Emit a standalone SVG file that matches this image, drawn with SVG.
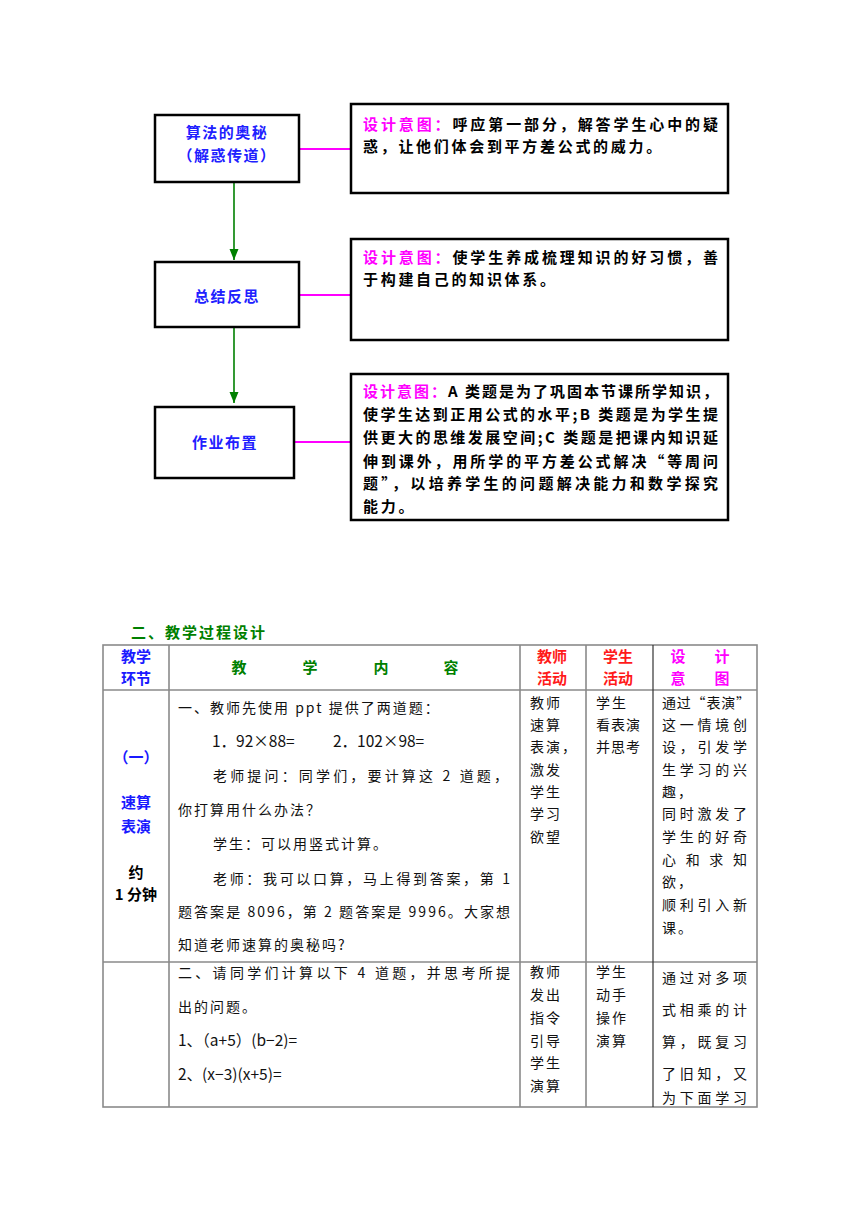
<svg xmlns="http://www.w3.org/2000/svg" width="860" height="1216" viewBox="0 0 860 1216">
<style>
  .box{fill:#fff;stroke:#000;stroke-width:2.5}
  .lbl{font-family:"Noto Sans CJK SC","Noto Sans",sans-serif;font-size:15px;font-weight:bold;fill:#2020ff;text-anchor:middle;letter-spacing:1.5px}
  .note{font-family:"Noto Sans CJK SC","Noto Sans",sans-serif;font-size:15px;font-weight:bold;fill:#000}
  .mg{fill:#ff00ff}
  .pink{stroke:#ff00ff;stroke-width:2;fill:none}
  .green{stroke:#008000;stroke-width:1.6;fill:none}
  .grid{stroke:#8a8a8a;stroke-width:1.6;fill:none}
  .hd{font-family:"Noto Sans CJK SC","Noto Sans",sans-serif;font-size:15px;font-weight:bold;text-anchor:middle}
  .body{font-family:"Noto Sans CJK SC","Noto Sans",sans-serif;font-size:14px;fill:#111}
  .num{font-size:15.5px}
  .nar{letter-spacing:2px}
</style>
<defs>
  <marker id="gd" markerWidth="12" markerHeight="12" refX="6" refY="11" markerUnits="userSpaceOnUse" viewBox="0 0 12 12">
    <path d="M1.5,0 L6,11 L10.5,0 Z" fill="#008000"/>
  </marker>
</defs>

<g id="connectors">
  <line class="green" x1="234" y1="183" x2="234" y2="260" marker-end="url(#gd)"/>
  <line class="green" x1="234" y1="327" x2="234" y2="403" marker-end="url(#gd)"/>
  <line class="pink" x1="300" y1="149" x2="351" y2="149"/>
  <line class="pink" x1="300" y1="295" x2="351" y2="295"/>
  <line class="pink" x1="295" y1="442" x2="351" y2="442"/>
</g>

<g id="node-suanfa">
  <rect class="box" x="155" y="115" width="144" height="67"/>
  <text class="lbl" x="227" y="138">算法的奥秘</text>
  <text class="lbl" x="227" y="161">（解惑传道）</text>
</g>
<g id="node-zongjie">
  <rect class="box" x="155" y="262" width="144" height="65"/>
  <text class="lbl" x="227" y="302">总结反思</text>
</g>
<g id="node-zuoye">
  <rect class="box" x="155" y="407" width="139" height="71"/>
  <text class="lbl" x="225" y="448">作业布置</text>
</g>

<g id="note-1">
  <rect class="box" x="351" y="104" width="377" height="89"/>
  <text class="note" x="363" y="130" textLength="355" lengthAdjust="spacing"><tspan class="mg">设计意图：</tspan>呼应第一部分，解答学生心中的疑</text>
  <text class="note" x="363" y="152" letter-spacing="2.7">惑，让他们体会到平方差公式的威力。</text>
</g>
<g id="note-2">
  <rect class="box" x="351" y="239" width="377" height="101"/>
  <text class="note" x="363" y="263" textLength="355" lengthAdjust="spacing"><tspan class="mg">设计意图：</tspan>使学生养成梳理知识的好习惯，善</text>
  <text class="note" x="363" y="285" letter-spacing="2.7">于构建自己的知识体系。</text>
</g>
<g id="note-3">
  <rect class="box" x="351" y="374" width="377" height="146"/>
  <text class="note" x="363" y="397" textLength="355" lengthAdjust="spacing"><tspan class="mg">设计意图：</tspan>A 类题是为了巩固本节课所学知识，</text>
  <text class="note" x="363" y="420" textLength="355" lengthAdjust="spacing">使学生达到正用公式的水平;B 类题是为学生提</text>
  <text class="note" x="363" y="443" textLength="355" lengthAdjust="spacing">供更大的思维发展空间;C 类题是把课内知识延</text>
  <text class="note" x="363" y="467" textLength="355" lengthAdjust="spacing">伸到课外，用所学的平方差公式解决“等周问</text>
  <text class="note" x="363" y="489" textLength="355" lengthAdjust="spacing">题”，以培养学生的问题解决能力和数学探究</text>
  <text class="note" x="363" y="512" letter-spacing="2.7">能力。</text>
</g>

<text id="section-title" x="131" y="638" font-family="Noto Sans CJK SC, sans-serif" font-size="15" font-weight="bold" fill="#008000" letter-spacing="2">二、教学过程设计</text>

<g id="table">
  <g id="table-grid">
    <rect class="grid" x="103" y="645" width="654" height="462"/>
    <line class="grid" x1="103" y1="690" x2="757" y2="690"/>
    <line class="grid" x1="103" y1="962" x2="757" y2="962"/>
    <line class="grid" x1="169" y1="645" x2="169" y2="1107"/>
    <line class="grid" x1="520" y1="645" x2="520" y2="1107"/>
    <line class="grid" x1="586" y1="645" x2="586" y2="1107"/>
    <line x1="653" y1="645" x2="653" y2="1107" stroke="#333" stroke-width="1.2"/>
  </g>
  <g id="table-header">
    <text class="hd" x="136" y="662" fill="#1a1aff">教学</text>
    <text class="hd" x="136" y="684" fill="#1a1aff">环节</text>
    <text class="hd" x="239" y="673" fill="#008000">教</text>
    <text class="hd" x="310" y="673" fill="#008000">学</text>
    <text class="hd" x="381" y="673" fill="#008000">内</text>
    <text class="hd" x="451" y="673" fill="#008000">容</text>
    <text class="hd" x="552" y="662" fill="#ff1a1a">教师</text>
    <text class="hd" x="552" y="684" fill="#ff1a1a">活动</text>
    <text class="hd" x="618" y="662" fill="#ff1a1a">学生</text>
    <text class="hd" x="618" y="684" fill="#ff1a1a">活动</text>
    <text class="hd" x="678" y="662" fill="#ff00ff">设</text>
    <text class="hd" x="722" y="662" fill="#ff00ff">计</text>
    <text class="hd" x="678" y="684" fill="#ff00ff">意</text>
    <text class="hd" x="722" y="684" fill="#ff00ff">图</text>
  </g>
  <g id="row-1">
    <text class="hd" x="136" y="763" fill="#1a1aff">（一）</text>
    <text class="hd" x="136" y="808" fill="#1a1aff">速算</text>
    <text class="hd" x="136" y="832" fill="#1a1aff">表演</text>
    <text class="hd" x="136" y="878" fill="#000">约</text>
    <text class="hd" x="136" y="900" fill="#000">1 分钟</text>

    <text class="body nar" x="178" y="713">一、教师先使用 ppt 提供了两道题：</text>
    <text class="body num" x="212" y="747">1．92×88=</text>
    <text class="body num" x="333" y="747">2．102×98=</text>
    <text class="body" x="213" y="781" textLength="295" lengthAdjust="spacing">老师提问：同学们，要计算这 2 道题，</text>
    <text class="body nar" x="178" y="815">你打算用什么办法？</text>
    <text class="body nar" x="213" y="849">学生：可以用竖式计算。</text>
    <text class="body" x="213" y="884" textLength="297" lengthAdjust="spacing">老师：我可以口算，马上得到答案，第 1</text>
    <text class="body" x="178" y="917" textLength="332" lengthAdjust="spacing">题答案是 8096，第 2 题答案是 9996。大家想</text>
    <text class="body nar" x="178" y="950">知道老师速算的奥秘吗?</text>

    <text class="body nar" x="530" y="708">教师</text>
    <text class="body nar" x="530" y="730">速算</text>
    <text class="body nar" x="530" y="752">表演，</text>
    <text class="body nar" x="530" y="775">激发</text>
    <text class="body nar" x="530" y="797">学生</text>
    <text class="body nar" x="530" y="819">学习</text>
    <text class="body nar" x="530" y="842">欲望</text>

    <text class="body nar" x="596" y="708">学生</text>
    <text class="body" x="596" y="730" letter-spacing="1">看表演</text>
    <text class="body" x="596" y="752" letter-spacing="1">并思考</text>

    <text class="body" x="662" y="708" textLength="88" lengthAdjust="spacing">通过“表演”</text>
    <text class="body" x="662" y="730" textLength="85" lengthAdjust="spacing">这一情境创</text>
    <text class="body" x="662" y="752" textLength="85" lengthAdjust="spacing">设，引发学</text>
    <text class="body" x="662" y="775" textLength="85" lengthAdjust="spacing">生学习的兴</text>
    <text class="body nar" x="662" y="797">趣，</text>
    <text class="body" x="662" y="819" textLength="85" lengthAdjust="spacing">同时激发了</text>
    <text class="body" x="662" y="842" textLength="85" lengthAdjust="spacing">学生的好奇</text>
    <text class="body" x="662" y="865" textLength="85" lengthAdjust="spacing">心 和 求 知</text>
    <text class="body nar" x="662" y="887">欲，</text>
    <text class="body" x="662" y="910" textLength="85" lengthAdjust="spacing">顺利引入新</text>
    <text class="body nar" x="662" y="933">课。</text>
  </g>
  <g id="row-2">
    <text class="body" x="178" y="978" textLength="332" lengthAdjust="spacing">二、请同学们计算以下 4 道题，并思考所提</text>
    <text class="body nar" x="178" y="1012">出的问题。</text>
    <text class="body num" x="178" y="1046">1、（a+5）(b−2)=</text>
    <text class="body num" x="178" y="1080">2、(x−3)(x+5)=</text>

    <text class="body nar" x="530" y="977">教师</text>
    <text class="body nar" x="530" y="1000">发出</text>
    <text class="body nar" x="530" y="1023">指令</text>
    <text class="body nar" x="530" y="1046">引导</text>
    <text class="body nar" x="530" y="1068">学生</text>
    <text class="body nar" x="530" y="1091">演算</text>

    <text class="body nar" x="596" y="977">学生</text>
    <text class="body nar" x="596" y="1000">动手</text>
    <text class="body nar" x="596" y="1023">操作</text>
    <text class="body nar" x="596" y="1046">演算</text>

    <text class="body" x="662" y="983" textLength="85" lengthAdjust="spacing">通过对多项</text>
    <text class="body" x="662" y="1015" textLength="85" lengthAdjust="spacing">式相乘的计</text>
    <text class="body" x="662" y="1047" textLength="85" lengthAdjust="spacing">算，既复习</text>
    <text class="body" x="662" y="1079" textLength="85" lengthAdjust="spacing">了旧知，又</text>
    <text class="body" x="662" y="1103" textLength="85" lengthAdjust="spacing">为下面学习</text>
  </g>
</g>
</svg>
